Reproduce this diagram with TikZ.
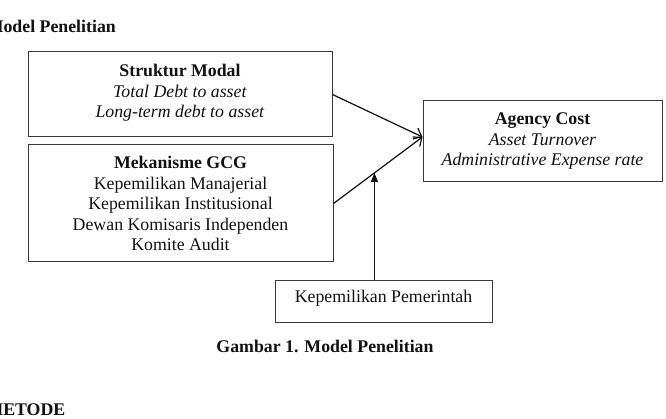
\documentclass[tikz,border=0pt]{standalone}
\usepackage{fontspec}
\setmainfont{Liberation Serif}
\usepackage{tikz}
\usetikzlibrary{arrows.meta, positioning, calc}
\definecolor{modelgrey}{HTML}{3A3A3A}
\definecolor{modelink}{HTML}{111111}
\tikzset{
  varbox/.style={draw=modelgrey, line width=1pt, inner sep=0pt},
  vartext/.style={font=\fontsize{17.8}{20.6}\selectfont, align=center, inner sep=0pt, anchor=north, text=modelink},
  headtext/.style={font=\fontsize{17.8}{20.6}\selectfont\bfseries, inner sep=0pt, text=modelink},
  linkarrow/.style={draw=modelink, line width=1.2pt, -{Straight Barb[length=7pt,width=12pt]}},
  modarrow/.style={draw=modelink, line width=1.2pt, -{Triangle[length=9pt,width=7pt]}}
}

\begin{document}
\begin{tikzpicture}[x=1pt, y=-1pt]
  \useasboundingbox (0,0) rectangle (666,419);
  \node[headtext, anchor=base east] (judul) at (116,33) {Model Penelitian};
  % variabel independen
  \node[varbox, minimum width=304pt, minimum height=85pt] (modal) at (180,94.5) {};
  \node[vartext] (modaltext) at (180,64) {\textbf{Struktur Modal}\\ \textit{Total Debt to asset}\\ \textit{Long-term debt to asset}};
  \node[varbox, minimum width=305pt, minimum height=117pt] (gcg) at (180.5,203.5) {};
  \node[vartext] (gcgtext) at (180.5,156) {\textbf{Mekanisme GCG}\\ Kepemilikan Manajerial\\ Kepemilikan Institusional\\ Dewan Komisaris Independen\\ Komite Audit};
  % variabel dependen
  \node[varbox, minimum width=239pt, minimum height=81pt] (agency) at (542.5,141.5) {};
  \node[vartext] (agencytext) at (542.5,112.5) {\textbf{Agency Cost}\\ \textit{Asset Turnover}\\ \textit{Administrative Expense rate}};
  % moderasi
  \node[varbox, minimum width=217pt, minimum height=41pt] (pemerintah) at (383.5,301.5) {};
  \node[vartext] (pemerintahtext) at (383.5,290) {Kepemilikan Pemerintah};
  \coordinate (target) at ([yshift=4.5pt]agency.west);
  \draw[linkarrow] (modal.east) -- (target);
  \draw[linkarrow] (gcg.east) -- (target);
  \coordinate (meet) at ($(gcg.east)!0.46!(target)$);
  \draw[modarrow] (meet |- pemerintah.north) -- (meet);
  \node[headtext, anchor=base] (gambar) at (325,352.5) {Gambar 1. Model Penelitian};
  \node[headtext, anchor=base east] (metode) at (65.5,415.5) {METODE};
\end{tikzpicture}
\end{document}
